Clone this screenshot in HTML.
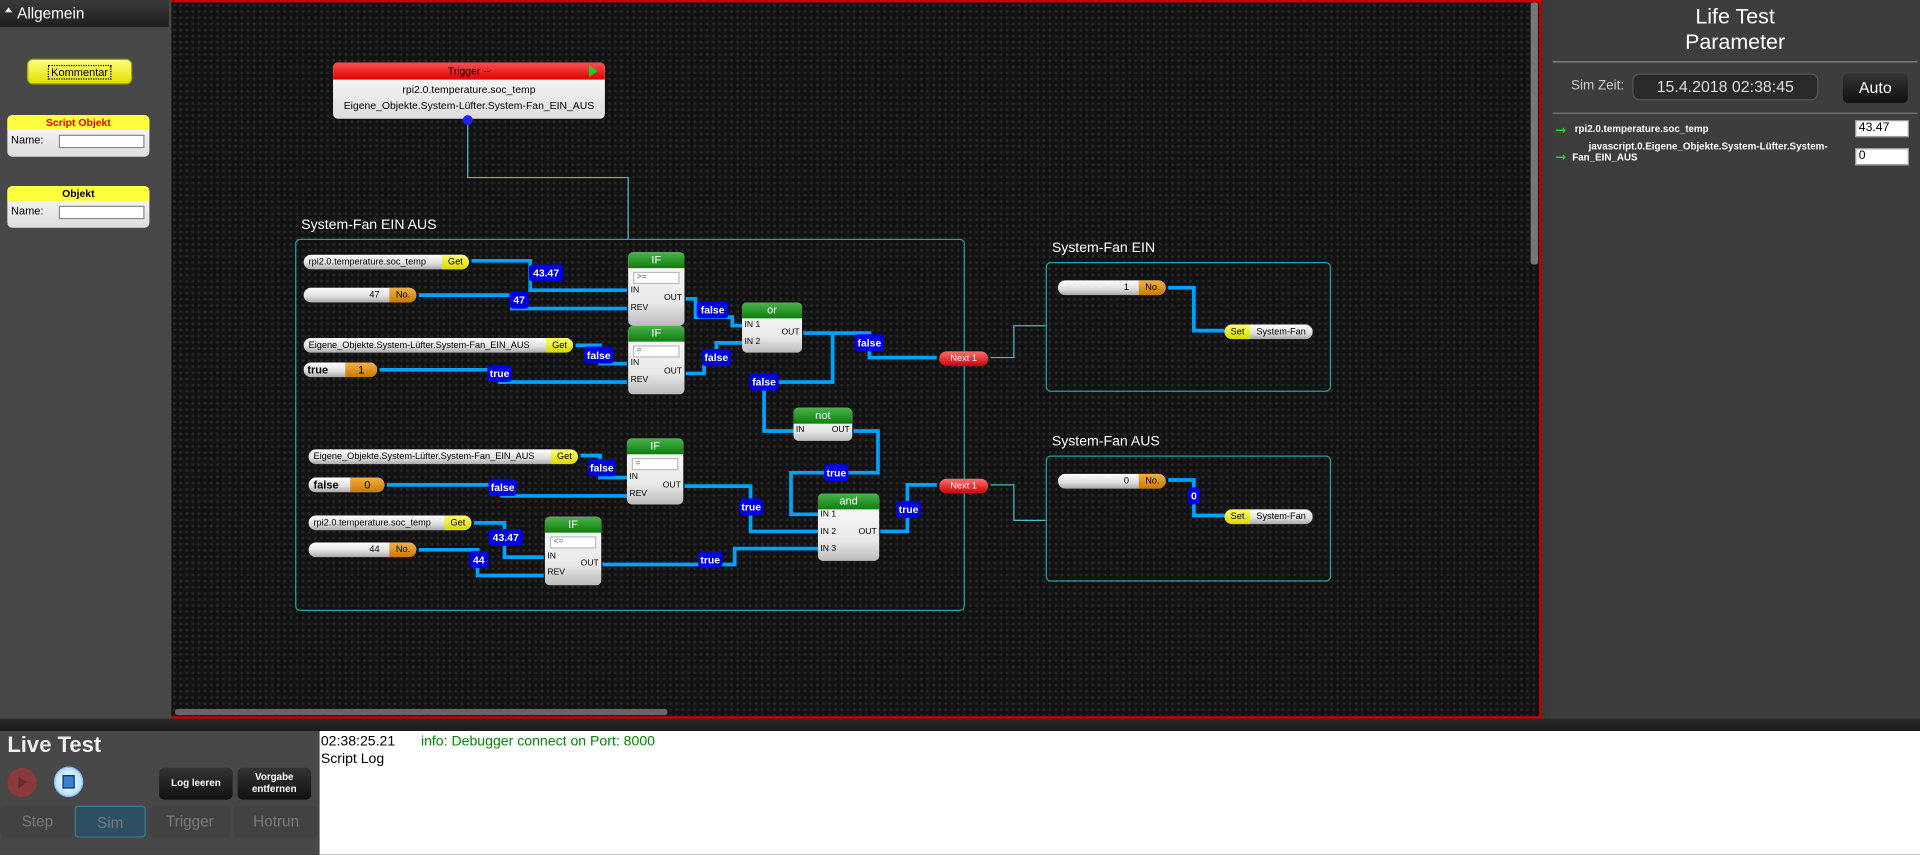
<!DOCTYPE html>
<html><head><meta charset="utf-8"><style>
*{margin:0;padding:0;box-sizing:border-box}
body{width:1920px;height:855px;overflow:hidden;background:#3a3a3a;font-family:"Liberation Sans",sans-serif}
#w{position:absolute;left:0;top:0;width:1568px;height:698px;transform:scale(1.22449);transform-origin:0 0}
.a{position:absolute}
.pill{position:absolute;height:12px;border-radius:6px;background:linear-gradient(#fff,#ddd 60%,#aaa);font-size:7.5px;line-height:12px;color:#000;overflow:hidden}
.pill .t{position:absolute;right:0;top:0;bottom:0;padding:0 5px;border-radius:0 6px 6px 0}
.get{background:linear-gradient(#ffff70,#d8d800)}
.no{background:linear-gradient(#f3b04a,#c97a00)}
.set{background:linear-gradient(#ffff70,#d8d800)}
.blk{position:absolute;border-radius:4px;background:linear-gradient(#fff,#e8e8e8 70%,#bbb);font-size:7px;color:#000;overflow:hidden}
.blk .h{height:13px;background:linear-gradient(#4bb44b,#0d7d0d);color:#fff;text-align:center;font-size:9px;line-height:13px}
.dd{position:absolute;left:4px;right:4px;top:16px;height:10px;border:1px solid #bbb;background:#fff;font-size:7px;line-height:8px;padding-left:2px;color:#555}
.p{position:absolute;font-size:7px}
.v{position:absolute;background:#0000e0;color:#fff;font-weight:bold;font-size:8.5px;text-align:center;border-radius:3px;height:14px;line-height:14px}
.grp{position:absolute;border:1px solid #1fa3a3;border-radius:4px}
.gl{position:absolute;color:#fff;font-size:11.5px}
.nx{position:absolute;width:40px;height:12px;border-radius:6px;background:linear-gradient(#ff7070,#c00);color:#fff;font-size:7.5px;text-align:center;line-height:12px}
.dot{position:absolute;width:7px;height:7px;border-radius:50%;background:#2e8b2e}
.btn{position:absolute;background:linear-gradient(#333,#111);border-radius:4px;color:#fff;font-size:8px;font-weight:bold;text-align:center}
.tab{position:absolute;top:658px;height:26px;background:#424242;border-radius:3px;color:#7a7a7a;font-size:12.5px;text-align:center;line-height:26px}
</style></head><body><div id="w">
<!-- left palette -->
<div class="a" style="left:0;top:0;width:140px;height:587px;background:#474747"></div>
<div class="a" style="left:0;top:0;width:138px;height:22px;background:linear-gradient(#3a3a3a,#1e1e1e);color:#fff;font-size:12.5px;line-height:22px;padding-left:14px">Allgemein</div>
<div class="a" style="left:4px;top:6px;width:0;height:0;border-left:3px solid transparent;border-right:3px solid transparent;border-bottom:4px solid #fff"></div>
<div class="a" style="left:22px;top:48px;width:86px;height:21px;border-radius:5px;background:linear-gradient(#ffff80,#e0e000);font-size:9px;text-align:center;line-height:21px;border:1px solid #aa0"><span style="border:1px dotted #000;padding:0 2px">Kommentar</span></div>
<div class="a" style="left:6px;top:94px;width:116px;height:34px;border-radius:4px;background:linear-gradient(#fff,#ddd)"><div style="height:12px;background:#ffff40;color:#e00;font-size:8.5px;font-weight:bold;text-align:center;line-height:12px;border-radius:4px 4px 0 0">Script Objekt</div><div style="font-size:9px;padding:3px 3px">Name:</div><div class="a" style="left:42px;top:16px;width:70px;height:11px;border:1px solid #888;background:#fff"></div></div>
<div class="a" style="left:6px;top:152px;width:116px;height:34px;border-radius:4px;background:linear-gradient(#fff,#ddd)"><div style="height:12px;background:#ffff40;color:#000;font-size:8.5px;font-weight:bold;text-align:center;line-height:12px;border-radius:4px 4px 0 0">Objekt</div><div style="font-size:9px;padding:3px 3px">Name:</div><div class="a" style="left:42px;top:16px;width:70px;height:11px;border:1px solid #888;background:#fff"></div></div>
<!-- canvas -->
<div class="a" style="left:140px;top:0;width:1119px;height:587px;background-color:#121212;background-image:radial-gradient(#262626 1px,transparent 1.5px);background-size:5px 5px;border:2px solid #c00;border-left:none"></div>
<div class="a" style="left:1250px;top:2px;width:6px;height:214px;background:#777;border-radius:2px"></div>
<div class="a" style="left:143px;top:579px;width:402px;height:5px;background:#666;border-radius:2px"></div>

<svg class="a" style="left:0;top:0" width="1568" height="698" fill="none" stroke-linejoin="miter">
<g stroke="#4fb8c8" stroke-width="1"><polyline points="382,97 382,145 513,145 513,195"/></g>
<g stroke="#00a2ff" stroke-width="3">
<polyline points="385,213 433,213 433,237 512,237"/>
<polyline points="342,241 418,241 418,252 512,252"/>
<polyline points="560,244 568,244 568,259 598,259 598,266 606,266"/>
<polyline points="470,282 490,282 490,297 512,297"/>
<polyline points="310,302 408,302 408,312 512,312"/>
<polyline points="560,305 575,305 575,294 585,294 585,280 606,280"/>
<polyline points="656,272 710,272 710,292 765,292"/>
<polyline points="680,272 680,312 624,312 624,352 648,352"/>
<polyline points="697,352 717,352 717,386 646,386 646,420 668,420"/>
<polyline points="474,372 490,372 490,390 512,390"/>
<polyline points="316,396 410,396 410,405 512,405"/>
<polyline points="559,397 613,397 613,434 668,434"/>
<polyline points="387,427 412,427 412,455 444,455"/>
<polyline points="342,449 390,449 390,470 444,470"/>
<polyline points="492,461 600,461 600,448 668,448"/>
<polyline points="719,434 741,434 741,396 765,396"/>
<polyline points="954,235 975,235 975,270 1000,270"/>
<polyline points="954,392 975,392 975,421 1000,421"/>
</g>
<g stroke="#4fb8c8" stroke-width="1"><polyline points="809,292 828,292 828,266 854,266"/><polyline points="809,396 828,396 828,425 854,425"/></g>
</svg>

<!-- trigger -->
<div class="a" style="left:272px;top:51px;width:222px;height:46px;border-radius:4px;background:linear-gradient(#fff,#ddd);font-size:8.5px;text-align:center;overflow:hidden">
<div style="height:14px;background:linear-gradient(#ff5050,#d00);color:#000;line-height:14px">Trigger --</div>
<div style="line-height:16px">rpi2.0.temperature.soc_temp</div>
<div style="line-height:10px">Eigene_Objekte.System-Lüfter.System-Fan_EIN_AUS</div></div>
<div class="a" style="left:481px;top:53px;width:0;height:0;border-top:5px solid transparent;border-bottom:5px solid transparent;border-left:7px solid #2c2"></div>
<div class="a" style="left:378px;top:94px;width:8px;height:8px;border-radius:50%;background:#22f"></div>

<!-- groups -->
<div class="gl" style="left:246px;top:178px">System-Fan EIN AUS</div>
<div class="grp" style="left:241px;top:195px;width:547px;height:304px"></div>
<div class="gl" style="left:859px;top:197px">System-Fan EIN</div>
<div class="grp" style="left:854px;top:214px;width:233px;height:106px"></div>
<div class="gl" style="left:859px;top:355px">System-Fan AUS</div>
<div class="grp" style="left:854px;top:372px;width:233px;height:103px"></div>

<!-- pills -->
<div class="pill" style="left:248px;top:208px;width:135px;padding-left:4px">rpi2.0.temperature.soc_temp<span class="t get">Get</span></div>
<div class="pill" style="left:248px;top:235px;width:92px"><span style="position:absolute;right:30px">47</span><span class="t no">No.</span></div>
<div class="pill" style="left:248px;top:276px;width:220px;padding-left:4px">Eigene_Objekte.System-Lüfter.System-Fan_EIN_AUS<span class="t get">Get</span></div>
<div class="pill" style="left:248px;top:296px;width:60px;padding-left:3px;font-weight:bold;font-size:9px">true<span class="t no" style="width:26px;text-align:center;font-weight:normal">1</span></div>
<div class="pill" style="left:252px;top:367px;width:220px;padding-left:4px">Eigene_Objekte.System-Lüfter.System-Fan_EIN_AUS<span class="t get">Get</span></div>
<div class="pill" style="left:252px;top:390px;width:62px;padding-left:4px;font-weight:bold;font-size:9px">false<span class="t no" style="width:28px;text-align:center;font-weight:normal">0</span></div>
<div class="pill" style="left:252px;top:421px;width:133px;padding-left:4px">rpi2.0.temperature.soc_temp<span class="t get">Get</span></div>
<div class="pill" style="left:252px;top:443px;width:88px"><span style="position:absolute;right:30px">44</span><span class="t no">No.</span></div>
<div class="pill" style="left:864px;top:229px;width:88px"><span style="position:absolute;right:30px">1</span><span class="t no">No.</span></div>
<div class="pill" style="left:864px;top:387px;width:88px"><span style="position:absolute;right:30px">0</span><span class="t no">No.</span></div>
<div class="pill" style="left:1000px;top:265px;width:72px;padding-left:26px">System-Fan<span class="t set" style="left:0;right:auto;border-radius:6px 0 0 6px">Set</span></div>
<div class="pill" style="left:1000px;top:416px;width:72px;padding-left:26px">System-Fan<span class="t set" style="left:0;right:auto;border-radius:6px 0 0 6px">Set</span></div>

<!-- blocks -->
<div class="blk" style="left:513px;top:206px;width:46px;height:60px"><div class="h">IF</div><div class="dd">&gt;=</div><div class="p" style="left:2px;top:28px">IN</div><div class="p" style="left:2px;top:42px">REV</div><div class="p" style="right:2px;top:34px">OUT</div></div>
<div class="blk" style="left:513px;top:266px;width:46px;height:56px"><div class="h">IF</div><div class="dd">=</div><div class="p" style="left:2px;top:27px">IN</div><div class="p" style="left:2px;top:41px">REV</div><div class="p" style="right:2px;top:34px">OUT</div></div>
<div class="blk" style="left:512px;top:358px;width:46px;height:54px"><div class="h">IF</div><div class="dd">=</div><div class="p" style="left:2px;top:28px">IN</div><div class="p" style="left:2px;top:42px">REV</div><div class="p" style="right:2px;top:35px">OUT</div></div>
<div class="blk" style="left:445px;top:422px;width:46px;height:56px"><div class="h">IF</div><div class="dd">&lt;=</div><div class="p" style="left:2px;top:29px">IN</div><div class="p" style="left:2px;top:42px">REV</div><div class="p" style="right:2px;top:35px">OUT</div></div>
<div class="blk" style="left:606px;top:247px;width:49px;height:41px"><div class="h">or</div><div class="p" style="left:2px;top:15px">IN 1</div><div class="p" style="left:2px;top:29px">IN 2</div><div class="p" style="right:2px;top:21px">OUT</div></div>
<div class="blk" style="left:648px;top:333px;width:48px;height:27px"><div class="h">not</div><div class="p" style="left:2px;top:15px">IN</div><div class="p" style="right:2px;top:15px">OUT</div></div>
<div class="blk" style="left:668px;top:403px;width:50px;height:55px"><div class="h">and</div><div class="p" style="left:2px;top:14px">IN 1</div><div class="p" style="left:2px;top:28px">IN 2</div><div class="p" style="left:2px;top:42px">IN 3</div><div class="p" style="right:2px;top:28px">OUT</div></div>
<div class="nx" style="left:767px;top:287px">Next 1</div>
<div class="nx" style="left:767px;top:391px">Next 1</div>

<!-- value labels -->
<div class="v" style="left:432px;top:216px;width:28px">43.47</div>
<div class="v" style="left:416px;top:238px;width:16px">47</div>
<div class="v" style="left:569px;top:246px;width:26px">false</div>
<div class="v" style="left:477px;top:283px;width:24px">false</div>
<div class="v" style="left:398px;top:298px;width:20px">true</div>
<div class="v" style="left:573px;top:285px;width:24px">false</div>
<div class="v" style="left:698px;top:273px;width:24px">false</div>
<div class="v" style="left:612px;top:305px;width:24px">false</div>
<div class="v" style="left:673px;top:379px;width:20px">true</div>
<div class="v" style="left:480px;top:375px;width:23px">false</div>
<div class="v" style="left:399px;top:391px;width:23px">false</div>
<div class="v" style="left:604px;top:407px;width:19px">true</div>
<div class="v" style="left:399px;top:432px;width:28px">43.47</div>
<div class="v" style="left:383px;top:450px;width:16px">44</div>
<div class="v" style="left:570px;top:450px;width:20px">true</div>
<div class="v" style="left:732px;top:409px;width:20px">true</div>
<div class="v" style="left:970px;top:398px;width:10px">0</div>

<!-- right panel -->
<div class="a" style="left:1266px;top:0;width:302px;height:587px;background:#3d3d3d"></div>
<div class="a" style="left:1266px;top:3px;width:302px;text-align:center;color:#fff;font-size:17.5px;line-height:21px">Life Test<br>Parameter</div>
<div class="a" style="left:1268px;top:50px;width:298px;height:1px;background:#888"></div>
<div class="a" style="left:1283px;top:64px;color:#ccc;font-size:11px">Sim Zeit:</div>
<div class="a" style="left:1333px;top:60px;width:152px;height:22px;border-radius:6px;background:#2a2a2a;border:1px solid #555;color:#ddd;font-size:13px;text-align:center;line-height:20px">15.4.2018 02:38:45</div>
<div class="btn" style="left:1505px;top:60px;width:53px;height:24px;font-size:13px;font-weight:normal;line-height:24px">Auto</div>
<div class="a" style="left:1268px;top:92px;width:298px;height:1px;background:#777"></div>
<div class="a" style="left:1270px;top:100px;color:#3c3;font-size:11px">&#10142;</div>
<div class="a" style="left:1286px;top:101px;color:#fff;font-size:8px;font-weight:bold">rpi2.0.temperature.soc_temp</div>
<div class="a" style="left:1515px;top:98px;width:44px;height:14px;background:#fff;border:1px solid #999;font-size:10px;padding-left:2px;line-height:12px">43.47</div>
<div class="a" style="left:1270px;top:122px;color:#3c3;font-size:11px">&#10142;</div>
<div class="a" style="left:1284px;top:115px;width:222px;color:#fff;font-size:8px;font-weight:bold;line-height:9px;text-align:center">javascript.0.Eigene_Objekte.System-Lüfter.System-<br><span style="display:block;text-align:left">Fan_EIN_AUS</span></div>
<div class="a" style="left:1515px;top:121px;width:44px;height:14px;background:#fff;border:1px solid #999;font-size:10px;padding-left:2px;line-height:12px">0</div>

<!-- bottom -->
<div class="a" style="left:0;top:587px;width:1568px;height:10px;background:linear-gradient(#2a2a2a,#1a1a1a)"></div>
<div class="a" style="left:0;top:597px;width:261px;height:101px;background:#474747"></div>
<div class="a" style="left:6px;top:598px;color:#eee;font-size:18px;font-weight:bold">Live Test</div>
<div class="a" style="left:6px;top:627px;width:24px;height:24px;border-radius:50%;background:#8a3a3a"></div>
<div class="a" style="left:15px;top:634px;width:0;height:0;border-top:5px solid transparent;border-bottom:5px solid transparent;border-left:7px solid #6a2a2a"></div>
<div class="a" style="left:44px;top:626px;width:24px;height:25px;border-radius:50%;background:radial-gradient(#fff,#9cd4ff);border:1px solid #8bf"></div>
<div class="a" style="left:51px;top:633px;width:10px;height:11px;background:#3b7fd0;border:1px solid #135"></div>
<div class="btn" style="left:130px;top:627px;width:60px;height:26px;line-height:26px">Log leeren</div>
<div class="btn" style="left:194px;top:627px;width:60px;height:26px;padding-top:3px;line-height:10px">Vorgabe<br>entfernen</div>
<div class="tab" style="left:1px;width:59px">Step</div>
<div class="tab" style="left:61px;width:58px;background:#2c5062;border:1px solid #3a7a90">Sim</div>
<div class="tab" style="left:122px;width:66px">Trigger</div>
<div class="tab" style="left:191px;width:69px">Hotrun</div>
<div class="a" style="left:261px;top:597px;width:1307px;height:101px;background:#fff;font-size:11.5px;line-height:14px;padding:2px 0 0 1px">02:38:25.21<span style="color:#080;margin-left:21px">info: Debugger connect on Port: 8000</span><br>Script Log</div>
</div></body></html>
